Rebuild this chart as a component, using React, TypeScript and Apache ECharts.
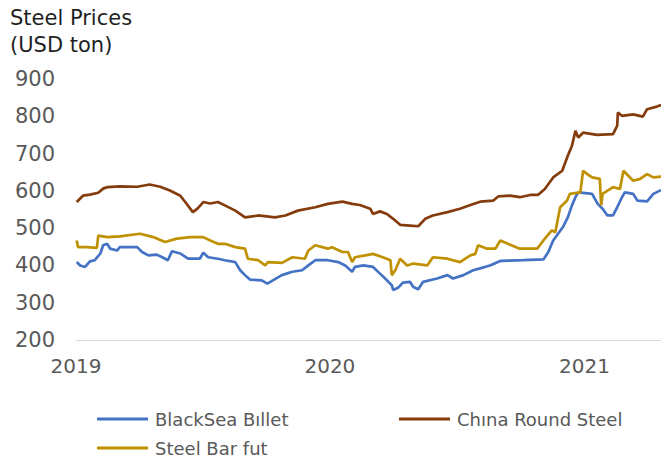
import React, { useEffect, useRef } from "react";
import * as echarts from "echarts";

const titleLines = ["Steel Prices", "(USD ton)"];
const seriesNames = ["BlackSea Bıllet", "Chına Round Steel", "Steel Bar fut"];
const seriesColors = ["#4472C4", "#843C0C", "#BF9000"];
const yearTicks = ["2019-01-01", "2020-01-01", "2021-01-01"];

const blackSeaBillet: [string, number][] = [
  ["2019-01-02", 409], ["2019-01-07", 400], ["2019-01-14", 396], ["2019-01-21", 411], ["2019-01-28", 414],
  ["2019-02-05", 432], ["2019-02-09", 454], ["2019-02-15", 458], ["2019-02-19", 445], ["2019-03-01", 440],
  ["2019-03-05", 449], ["2019-03-30", 449], ["2019-04-06", 436], ["2019-04-15", 427], ["2019-04-27", 429],
  ["2019-05-05", 422], ["2019-05-13", 414], ["2019-05-19", 438], ["2019-05-31", 432], ["2019-06-11", 418],
  ["2019-06-28", 418], ["2019-07-03", 434], ["2019-07-10", 422], ["2019-07-24", 418], ["2019-08-03", 414],
  ["2019-08-18", 409], ["2019-08-25", 387], ["2019-09-01", 374], ["2019-09-08", 362], ["2019-09-25", 360],
  ["2019-10-03", 351], ["2019-10-11", 360], ["2019-10-24", 374], ["2019-11-08", 383], ["2019-11-22", 387],
  ["2019-12-01", 400], ["2019-12-11", 414], ["2019-12-29", 414], ["2020-01-13", 409], ["2020-01-23", 400],
  ["2020-02-02", 383], ["2020-02-06", 396], ["2020-02-18", 400], ["2020-03-03", 396], ["2020-03-13", 378],
  ["2020-03-23", 360], ["2020-03-30", 347], ["2020-04-01", 334], ["2020-04-08", 340], ["2020-04-15", 354],
  ["2020-04-25", 356], ["2020-04-30", 342], ["2020-05-07", 336], ["2020-05-14", 356], ["2020-06-03", 365],
  ["2020-06-18", 374], ["2020-06-26", 365], ["2020-07-11", 374], ["2020-07-25", 387], ["2020-08-04", 392],
  ["2020-08-18", 400], ["2020-09-02", 412], ["2020-10-05", 414], ["2020-11-03", 416], ["2020-11-10", 436],
  ["2020-11-17", 467], ["2020-11-24", 485], ["2020-12-01", 503], ["2020-12-08", 529], ["2020-12-14", 561],
  ["2020-12-19", 583], ["2020-12-23", 596], ["2021-01-12", 592], ["2021-01-20", 565], ["2021-01-27", 552],
  ["2021-02-03", 534], ["2021-02-11", 534], ["2021-02-17", 556], ["2021-02-24", 583], ["2021-02-28", 596],
  ["2021-03-12", 592], ["2021-03-18", 574], ["2021-04-01", 572], ["2021-04-10", 592], ["2021-04-21", 602],
];

const chinaRoundSteel: [string, number][] = [
  ["2019-01-02", 570], ["2019-01-11", 587], ["2019-01-21", 590], ["2019-02-02", 595], ["2019-02-09", 606],
  ["2019-02-15", 610], ["2019-03-05", 612], ["2019-03-30", 611], ["2019-04-17", 617], ["2019-05-02", 611],
  ["2019-05-16", 601], ["2019-05-31", 587], ["2019-06-07", 570], ["2019-06-18", 543], ["2019-06-25", 553],
  ["2019-07-03", 570], ["2019-07-13", 566], ["2019-07-24", 570], ["2019-08-03", 561], ["2019-08-18", 547],
  ["2019-09-01", 529], ["2019-09-20", 534], ["2019-10-14", 529], ["2019-10-29", 534], ["2019-11-16", 547],
  ["2019-12-11", 556], ["2019-12-29", 565], ["2020-01-19", 571], ["2020-02-02", 565], ["2020-02-13", 562],
  ["2020-02-28", 552], ["2020-03-03", 538], ["2020-03-13", 545], ["2020-03-23", 538], ["2020-04-01", 525],
  ["2020-04-11", 509], ["2020-04-25", 507], ["2020-05-07", 505], ["2020-05-17", 525], ["2020-05-28", 534],
  ["2020-06-18", 543], ["2020-07-06", 552], ["2020-07-21", 562], ["2020-08-04", 571], ["2020-08-23", 574],
  ["2020-08-30", 585], ["2020-09-16", 587], ["2020-09-30", 583], ["2020-10-15", 589], ["2020-10-26", 589],
  ["2020-11-05", 605], ["2020-11-17", 636], ["2020-11-30", 654], ["2020-12-08", 694], ["2020-12-14", 721],
  ["2020-12-19", 761], ["2020-12-23", 743], ["2020-12-30", 756], ["2021-01-19", 750], ["2021-02-11", 752],
  ["2021-02-17", 774], ["2021-02-18", 810], ["2021-02-24", 801], ["2021-03-12", 805], ["2021-03-26", 799],
  ["2021-04-01", 819], ["2021-04-15", 826], ["2021-04-21", 830],
];

const steelBarFut: [string, number][] = [
  ["2019-01-02", 467], ["2019-01-04", 449], ["2019-01-17", 449], ["2019-01-31", 447], ["2019-02-02", 480],
  ["2019-02-15", 476], ["2019-03-05", 478], ["2019-04-03", 485], ["2019-04-22", 476], ["2019-05-09", 463],
  ["2019-05-26", 472], ["2019-06-14", 476], ["2019-07-03", 476], ["2019-07-13", 467], ["2019-07-24", 458],
  ["2019-08-03", 458], ["2019-08-18", 449], ["2019-09-01", 445], ["2019-09-05", 418], ["2019-09-20", 414],
  ["2019-09-30", 400], ["2019-10-04", 409], ["2019-10-24", 407], ["2019-11-08", 422], ["2019-11-26", 418],
  ["2019-12-01", 440], ["2019-12-11", 454], ["2019-12-29", 445], ["2020-01-04", 449], ["2020-01-19", 436],
  ["2020-01-27", 436], ["2020-02-02", 409], ["2020-02-06", 422], ["2020-02-21", 427], ["2020-03-03", 431],
  ["2020-03-17", 422], ["2020-03-28", 414], ["2020-03-30", 374], ["2020-04-04", 387], ["2020-04-11", 418],
  ["2020-04-21", 400], ["2020-04-30", 405], ["2020-05-20", 400], ["2020-05-28", 422], ["2020-06-18", 418],
  ["2020-07-06", 409], ["2020-07-21", 427], ["2020-07-28", 431], ["2020-08-01", 454], ["2020-08-14", 445],
  ["2020-08-26", 445], ["2020-09-02", 467], ["2020-09-13", 458], ["2020-09-30", 445], ["2020-10-25", 445],
  ["2020-11-03", 467], ["2020-11-15", 494], ["2020-11-20", 489], ["2020-11-27", 556], ["2020-12-07", 574],
  ["2020-12-11", 592], ["2020-12-26", 596], ["2020-12-30", 654], ["2021-01-05", 645], ["2021-01-12", 636],
  ["2021-01-23", 632], ["2021-01-25", 561], ["2021-01-27", 592], ["2021-02-11", 610], ["2021-02-21", 605],
  ["2021-02-26", 654], ["2021-03-12", 627], ["2021-03-22", 632], ["2021-04-01", 645], ["2021-04-10", 636],
  ["2021-04-21", 638],
];

const FONT = "DejaVu Sans";

function toTime(s: string): number {
  const [y, m, d] = s.split("-").map(Number);
  return new Date(y, m - 1, d).getTime();
}

export default function App() {
  const ref = useRef<HTMLDivElement>(null);
  useEffect(() => {
    if (!ref.current) return;
    const chart = echarts.init(ref.current, undefined, { renderer: "svg" });
    const allData = [blackSeaBillet, chinaRoundSteel, steelBarFut];
    const legendPos = [
      { left: 97, top: 410 },
      { left: 399, top: 410 },
      { left: 97, top: 439 },
    ];
    chart.setOption({
      animation: false,
      backgroundColor: "#ffffff",
      title: {
        text: titleLines.join("\n"),
        left: 10,
        top: 4,
        padding: 0,
        textStyle: { fontFamily: FONT, fontSize: 21, fontWeight: "normal", color: "#1f1f1f", lineHeight: 27 },
      },
      legend: seriesNames.map((n, i) => ({
        data: [n],
        left: legendPos[i].left,
        top: legendPos[i].top,
        padding: 0,
        icon: "rect",
        itemWidth: 51,
        itemHeight: 3,
        textStyle: { fontFamily: FONT, fontSize: 18, color: "#595959", padding: [0, 0, 0, 2] },
      })),
      grid: { left: 76, right: 0, top: 79, bottom: 119, containLabel: false },
      xAxis: {
        type: "value",
        min: toTime("2019-01-01"),
        max: toTime("2021-04-21"),
        axisLine: { show: true, onZero: false, lineStyle: { color: "#d9d9d9", width: 1 } },
        axisTick: { show: false },
        splitLine: { show: false },
        axisLabel: {
          customValues: yearTicks.map(toTime),
          formatter: (v: number) => String(new Date(v + 86400000 * 3).getFullYear()),
          fontFamily: FONT,
          fontSize: 20,
          color: "#595959",
          margin: 16,
        },
      },
      yAxis: {
        type: "value",
        min: 200,
        max: 900,
        interval: 100,
        axisLine: { show: false },
        axisTick: { show: false },
        splitLine: { show: false },
        axisLabel: { fontFamily: FONT, fontSize: 21, color: "#595959", margin: 21 },
      },
      series: seriesNames.map((n, i) => ({
        name: n,
        type: "line",
        showSymbol: false,
        symbol: "none",
        color: seriesColors[i],
        lineStyle: { color: seriesColors[i], width: 2.7 },
        data: allData[i].map(([d, v]) => [toTime(d), v]),
      })),
    });
    return () => chart.dispose();
  }, []);
  return <div ref={ref} style={{ width: 661, height: 459, position: "absolute", left: 0, top: 0 }} />;
}
